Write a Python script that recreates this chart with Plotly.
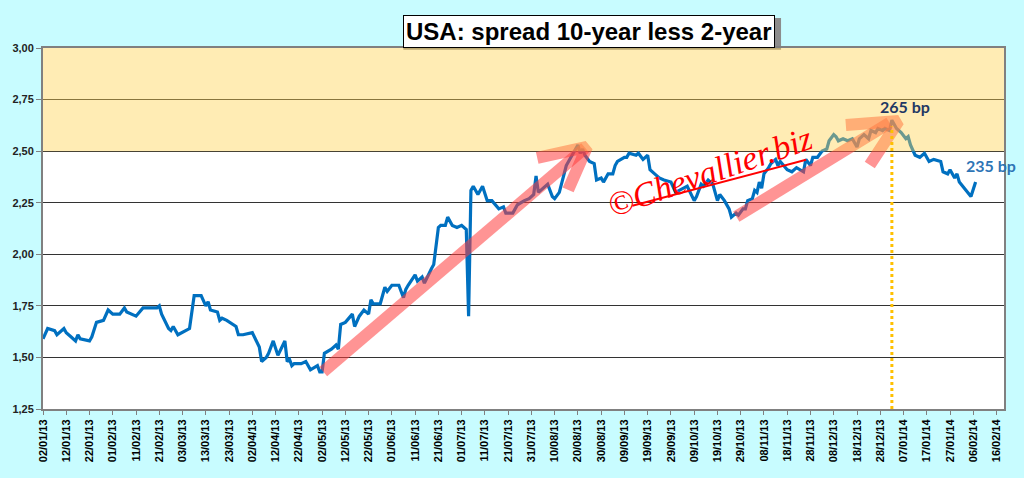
import pandas as pd
import plotly.graph_objects as go

# ----------- Data --------------------------------------------
# days counted from 02/01/2013, spread in %
start = pd.Timestamp("2013-01-02")
day = [0, 2, 5, 6, 9, 10, 12, 14, 15, 16,
       20, 21, 23, 26, 28, 30, 33, 35, 36, 40,
       43, 49, 50, 51, 54, 55, 56, 58, 63, 64,
       65, 68, 70, 71, 72, 75, 76, 77, 79, 83,
       84, 86, 90, 93, 94, 96, 97, 99, 101, 104,
       105, 106, 107, 108, 111, 113, 115, 118, 119, 120,
       121, 124, 126, 127, 128, 130, 133, 134, 136, 138,
       140, 141, 142, 145, 147, 148, 150, 153, 155, 156,
       157, 160, 161, 163, 164, 167, 168, 170, 171, 173,
       174, 176, 178, 180, 182, 183, 184, 185, 187, 189,
       191, 193, 196, 198, 199, 202, 204, 207, 209, 211,
       212, 213, 215, 217, 219, 220, 222, 224, 225, 227,
       228, 230, 231, 232, 233, 235, 237, 238, 240, 241,
       243, 245, 246, 247, 250, 251, 252, 255, 256, 258,
       260, 261, 263, 265, 267, 270, 272, 275, 277, 280,
       281, 283, 284, 286, 288, 290, 291, 293, 295, 296,
       298, 299, 301, 302, 303, 305, 306, 307, 308, 309,
       310, 312, 313, 315, 316, 317, 320, 322, 324, 327,
       328, 330, 331, 333, 335, 337, 338, 340, 341, 342,
       344, 346, 348, 350, 351, 353, 355, 356, 358, 359,
       361, 362, 364, 365, 367, 369, 371, 372, 373, 375,
       377, 379, 381, 383, 386, 387, 389, 390, 392, 393,
       394, 399, 401]
spread = [1.59, 1.64, 1.63, 1.61, 1.64, 1.62, 1.60, 1.58, 1.61, 1.59,
          1.58, 1.60, 1.67, 1.68, 1.73, 1.71, 1.71, 1.74, 1.72, 1.70,
          1.74, 1.74, 1.75, 1.71, 1.64, 1.63, 1.65, 1.61, 1.64, 1.72,
          1.80, 1.80, 1.75, 1.77, 1.73, 1.72, 1.68, 1.69, 1.68, 1.65,
          1.61, 1.61, 1.62, 1.55, 1.48, 1.50, 1.52, 1.58, 1.51, 1.58,
          1.48, 1.49, 1.46, 1.47, 1.47, 1.48, 1.44, 1.46, 1.43, 1.43,
          1.52, 1.54, 1.56, 1.54, 1.66, 1.67, 1.71, 1.65, 1.70, 1.73,
          1.71, 1.78, 1.76, 1.76, 1.84, 1.82, 1.85, 1.85, 1.79, 1.83,
          1.85, 1.90, 1.87, 1.89, 1.86, 1.93, 1.95, 2.13, 2.14, 2.14,
          2.18, 2.14, 2.13, 2.14, 2.12, 1.70, 2.31, 2.33, 2.29, 2.33,
          2.26, 2.26, 2.22, 2.23, 2.20, 2.20, 2.24, 2.26, 2.27, 2.29,
          2.38, 2.30, 2.32, 2.34, 2.28, 2.27, 2.30, 2.39, 2.43, 2.47,
          2.49, 2.53, 2.49, 2.51, 2.48, 2.45, 2.44, 2.36, 2.37, 2.35,
          2.39, 2.39, 2.43, 2.45, 2.47, 2.47, 2.49, 2.48, 2.49, 2.46,
          2.48, 2.41, 2.39, 2.37, 2.36, 2.35, 2.30, 2.32, 2.33, 2.26,
          2.28, 2.34, 2.33, 2.36, 2.34, 2.26, 2.29, 2.26, 2.22, 2.18,
          2.20, 2.19, 2.22, 2.22, 2.26, 2.27, 2.31, 2.30, 2.35, 2.32,
          2.39, 2.42, 2.44, 2.46, 2.43, 2.45, 2.41, 2.40, 2.42, 2.40,
          2.46, 2.43, 2.47, 2.47, 2.50, 2.51, 2.55, 2.58, 2.57, 2.55,
          2.56, 2.55, 2.56, 2.52, 2.56, 2.58, 2.56, 2.60, 2.59, 2.61,
          2.60, 2.61, 2.60, 2.65, 2.61, 2.59, 2.56, 2.57, 2.53, 2.48,
          2.47, 2.49, 2.45, 2.46, 2.45, 2.40, 2.39, 2.41, 2.37, 2.39,
          2.35, 2.28, 2.35]

# pink trend arrows (day, level): shaft then the two head strokes
arrow1_day = [120.5, 233.1, None, 212.5, 233.9, 225.8]
arrow1_lvl = [1.431, 2.516, None, 2.467, 2.521, 2.312]
arrow2_day = [298.1, 364.0, None, 345.2, 367.9, 355.5]
arrow2_lvl = [2.182, 2.637, None, 2.627, 2.646, 2.433]
mark_day = [253.4, 328.1]
mark_lvl = [2.235, 2.458]

dates = start + pd.to_timedelta(day, unit="D")


def to_dates(d):
    return [None if v is None else start + pd.Timedelta(days=v) for v in d]


peak_i = spread.index(max(spread))

#----------- Figure -------------------------
fig = go.Figure()

fig.add_trace(go.Scatter(x=dates, y=spread, mode="lines",
                         line=dict(color="#0070C0", width=3.2),
                         hoverinfo="skip", showlegend=False))

for ad, al in [(arrow1_day, arrow1_lvl), (arrow2_day, arrow2_lvl)]:
    fig.add_trace(go.Scatter(x=to_dates(ad), y=al, mode="lines",
                             line=dict(color="rgba(255,60,60,0.55)", width=12),
                             connectgaps=False, hoverinfo="skip", showlegend=False))

fig.add_trace(go.Scatter(x=to_dates(mark_day), y=mark_lvl, mode="lines",
                         line=dict(color="#FF0000", width=2),
                         hoverinfo="skip", showlegend=False))

# orange band above 2.50 (drawn over the line)
fig.add_shape(type="rect", xref="paper", x0=0, x1=1, y0=2.5, y1=3.0,
              fillcolor="#FFD24D", opacity=0.42, line_width=0, layer="above")

# dotted line under the peak
fig.add_shape(type="line", x0=dates[peak_i], x1=dates[peak_i], y0=1.25, y1=spread[peak_i] - 0.03,
              line=dict(color="#FFC000", width=3, dash="dot"), layer="above")

fig.add_annotation(x=dates[peak_i], y=spread[peak_i], text="<b>265 bp</b>", showarrow=False,
                   yanchor="bottom", xshift=13, yshift=2,
                   font=dict(family="Lato", size=16, color="#1F3864"))
fig.add_annotation(x=dates[-1], y=spread[-1], text="<b>235 bp</b>", showarrow=False,
                   xanchor="left", yanchor="bottom", xshift=-12, yshift=5,
                   font=dict(family="Lato", size=16, color="#2E75B6"))

fig.add_annotation(x=start + pd.Timedelta(days=287), y=2.40, text="<i>©Chevallier.biz</i>",
                   showarrow=False, textangle=-19,
                   font=dict(family="Liberation Serif", size=34, color="#FF0000"))

# title box with a grey shadow behind it
title = "USA: spread 10-year less 2-year"
fig.add_shape(type="rect", xref="paper", yref="paper", x0=0.375, x1=0.768, y0=0.995, y1=1.083,
              fillcolor="#8C8C8C", line_width=0, layer="below")
fig.add_annotation(xref="paper", yref="paper", x=0.568, y=1.047, yanchor="middle",
                   text="<b>%s</b>" % title,
                   showarrow=False, bgcolor="white", bordercolor="black",
                   borderwidth=1, borderpad=2,
                   font=dict(family="Liberation Sans", size=24, color="black"))

fig.update_xaxes(type="date", range=["2013-01-02", "2014-02-19 05:00"],
                 tick0="2013-01-02", dtick=10 * 86400000, tickformat="%d/%m/%y",
                 tickangle=-90, ticks="outside", ticklen=4, tickcolor="#808080",
                 tickfont=dict(family="Liberation Sans", size=11, color="black", weight="bold"),
                 showgrid=False, showline=True, linecolor="#808080", linewidth=2, mirror=True)
fig.update_yaxes(range=[1.25, 3.0], dtick=0.25, tickformat=".2f",
                 ticks="outside", ticklen=5, tickcolor="#808080",
                 tickfont=dict(family="Liberation Sans", size=11, color="#222222", weight="bold"),
                 showgrid=True, gridcolor="#333333", gridwidth=1,
                 showline=True, linecolor="#808080", linewidth=2, mirror=True, zeroline=False)

fig.update_layout(width=1024, height=478,
                  margin=dict(l=38, r=20, t=48, b=69),
                  paper_bgcolor="#C8FCFF", plot_bgcolor="white",
                  separators=", ", showlegend=False)

fig.write_html("out.html", config={"displayModeBar": False},
               post_script="document.body.style.margin='0';")
